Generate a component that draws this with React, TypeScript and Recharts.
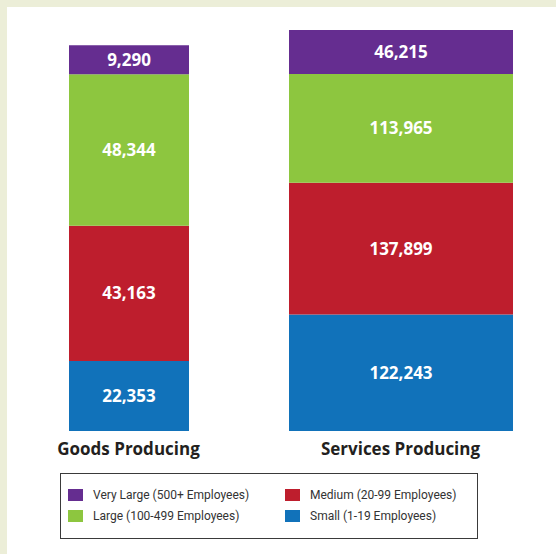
import React from "react";
import { BarChart, Bar, XAxis, YAxis, LabelList } from "recharts";

const categories = ["Goods Producing", "Services Producing"];
const seriesKeys = ["small", "medium", "large", "veryLarge"];
const seriesNames = [
  "Small (1-19 Employees)",
  "Medium (20-99 Employees)",
  "Large (100-499 Employees)",
  "Very Large (500+ Employees)",
];
const seriesColors = ["#1172ba", "#be1e2d", "#8dc63f", "#652d90"];
const small = [22353, 122243];
const medium = [43163, 137899];
const large = [48344, 113965];
const veryLarge = [9290, 46215];
const yMax = [128000, 420322];

const values = [small, medium, large, veryLarge];

const fmt = (v: any) => Number(v).toLocaleString("en-US");

const CatTick = (props: any) => {
  const { x, y, payload } = props;
  return (
    <text
      x={x}
      y={y + 24}
      textAnchor="middle"
      fontFamily="'Open Sans', sans-serif"
      fontWeight={700}
      fontSize={17}
      fill="#231f20"
    >
      {payload.value}
    </text>
  );
};

function SingleBar({ idx, left, width, barSize }: { idx: number; left: number; width: number; barSize: number }) {
  const row: any = { name: categories[idx] };
  seriesKeys.forEach((k, i) => {
    row[k] = values[i][idx];
  });
  return (
    <div style={{ position: "absolute", left, top: 0 }}>
      <BarChart
        width={width}
        height={470}
        data={[row]}
        margin={{ top: 30, right: 0, bottom: 9, left: 0 }}
        barCategoryGap={0}
      >
        <XAxis
          dataKey="name"
          axisLine={false}
          tickLine={false}
          tickSize={0}
          tickMargin={0}
          height={30}
          tick={<CatTick />}
          interval={0}
        />
        <YAxis hide domain={[0, yMax[idx]]} allowDataOverflow />
        {seriesKeys.map((k, i) => (
          <Bar
            key={k}
            dataKey={k}
            name={seriesNames[i]}
            stackId="a"
            fill={seriesColors[i]}
            barSize={barSize}
            isAnimationActive={false}
          >
            <LabelList
              dataKey={k}
              position="center"
              fill="#ffffff"
              fontSize={17}
              fontWeight={700}
              fontFamily="'Open Sans', sans-serif"
              formatter={fmt}
            />
          </Bar>
        ))}
      </BarChart>
    </div>
  );
}

const legendOrder = [3, 1, 2, 0];

export default function App() {
  return (
    <div
      style={{
        position: "absolute",
        left: 0,
        top: 0,
        width: 556,
        height: 554,
        background: "#eceed8",
        overflow: "hidden",
      }}
    >
      <div
        style={{
          position: "absolute",
          left: 7,
          top: 7,
          width: 549,
          height: 547,
          background: "#ffffff",
        }}
      />
      <SingleBar idx={0} left={0} width={257} barSize={120} />
      <SingleBar idx={1} left={257} width={287} barSize={224} />
      <div
        style={{
          position: "absolute",
          left: 60,
          top: 473,
          width: 418,
          height: 66,
          border: "1.5px solid #3a3a3a",
          boxSizing: "border-box",
        }}
      />
      {legendOrder.map((si, j) => {
        const col = j % 2;
        const rowI = Math.floor(j / 2);
        return (
          <div
            key={si}
            style={{
              position: "absolute",
              left: col === 0 ? 68 : 285,
              top: rowI === 0 ? 488 : 509,
              height: 14,
              display: "flex",
              alignItems: "center",
              fontFamily: "Roboto, sans-serif",
              fontSize: 12,
              color: "#333333",
              whiteSpace: "nowrap",
            }}
          >
            <div style={{ width: 15, height: 12, background: seriesColors[si] }} />
            <span style={{ marginLeft: 10 }}>{seriesNames[si]}</span>
          </div>
        );
      })}
    </div>
  );
}
